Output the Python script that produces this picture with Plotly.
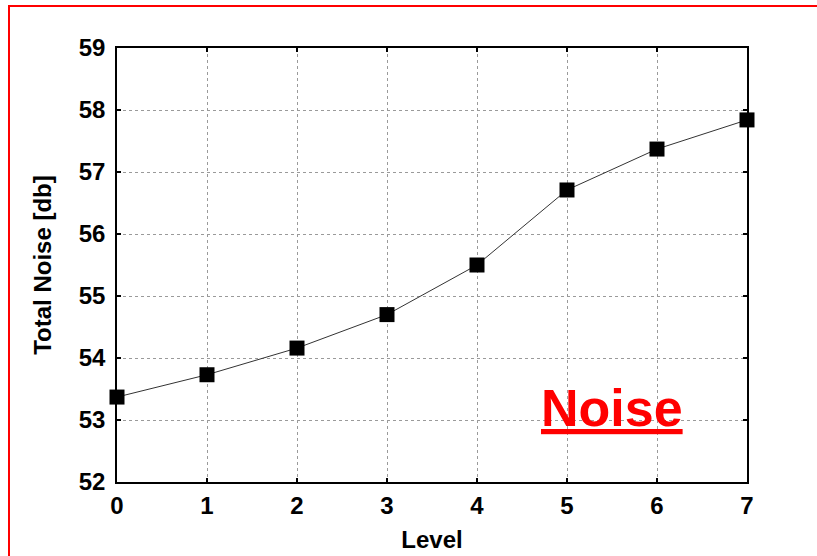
import plotly.graph_objects as go

levels = [0, 1, 2, 3, 4, 5, 6, 7]
total_noise = [53.37, 53.73, 54.16, 54.70, 55.50, 56.71, 57.37, 57.84]
y_ticks = [52, 53, 54, 55, 56, 57, 58, 59]
x_ticks = [0, 1, 2, 3, 4, 5, 6, 7]

W, H = 817, 556
L, R, T, B = 117, 70, 48, 74
pw, ph = W - L - R, H - T - B

def px_x(p):
    return (p - L) / pw

def px_y(p):
    return (H - B - p) / ph

FONT = "Arial, Liberation Sans, sans-serif"

fig = go.Figure()
fig.add_trace(go.Scatter(
    x=levels, y=total_noise, mode="lines+markers",
    line=dict(color="#333333", width=1),
    marker=dict(symbol="square", size=15, color="black"),
    cliponaxis=False, showlegend=False,
))

axis_common = dict(
    showline=True, linecolor="black", linewidth=1.5, mirror="ticks",
    ticks="inside", ticklen=4, tickcolor="black", tickwidth=1.5,
    showgrid=True, gridcolor="#9a9a9a", gridwidth=1, griddash="dot",
    zeroline=False, automargin=False,
    tickfont=dict(family=FONT, size=24, color="black", weight="bold"),
)

fig.update_xaxes(range=[0, 7], tickvals=x_ticks, ticklabelstandoff=1,
                 title=dict(text="Level", standoff=14,
                            font=dict(family=FONT, size=24, color="black", weight="bold")),
                 **axis_common)
fig.update_yaxes(range=[52, 59], tickvals=y_ticks, ticklabelstandoff=5,
                 title=dict(text="Total Noise [db]", standoff=20,
                            font=dict(family=FONT, size=24, color="black", weight="bold")),
                 **axis_common)

fig.add_annotation(x=5.5, y=53.2, xref="x", yref="y", text="<u>Noise</u>",
                   showarrow=False,
                   font=dict(family=FONT, size=52, color="red", weight="bold"))

# red frame (left and top)
fig.add_shape(type="line", xref="paper", yref="paper",
              x0=px_x(9), x1=px_x(9), y0=px_y(6), y1=px_y(556),
              line=dict(color="red", width=2))
fig.add_shape(type="line", xref="paper", yref="paper",
              x0=px_x(8), x1=px_x(817), y0=px_y(6), y1=px_y(6),
              line=dict(color="red", width=2))

fig.update_layout(
    width=W, height=H,
    margin=dict(l=L, r=R, t=T, b=B),
    paper_bgcolor="white", plot_bgcolor="white",
)

fig.write_html("out.html")
